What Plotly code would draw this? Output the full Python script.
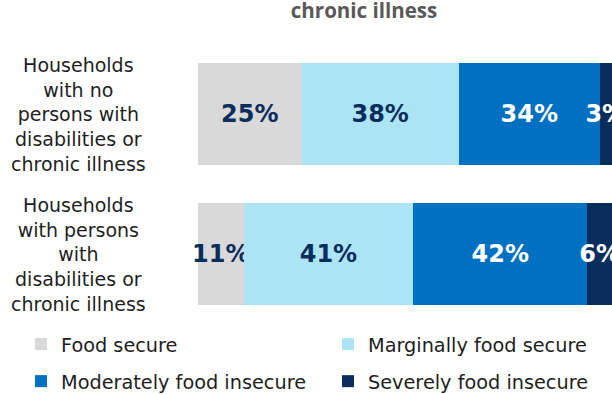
import plotly.graph_objects as go

categories = ["Households<br>with no<br>persons with<br>disabilities or<br>chronic illness",
              "Households<br>with persons<br>with<br>disabilities or<br>chronic illness"]
series_names = ["Food secure", "Marginally food secure", "Moderately food insecure", "Severely food insecure"]
food_secure = [25, 11]
marginally = [38, 41]
moderately = [34, 42]
severely = [3, 6]
series_values = [food_secure, marginally, moderately, severely]
colors = ["#D9D9D9", "#ADE4F5", "#0070C0", "#0B2D5C"]
text_colors = ["#0B2D5C", "#0B2D5C", "#FFFFFF", "#FFFFFF"]
legend_ids = ["legend", "legend2", "legend", "legend2"]

W, H = 612, 394
fig = go.Figure()
for name, vals, col, tcol, lg in zip(series_names, series_values, colors, text_colors, legend_ids):
    fig.add_trace(go.Bar(
        y=categories, x=vals, name=name, orientation="h",
        marker=dict(color=col, line=dict(width=0)),
        text=[f"{v}%" for v in vals], textposition="inside",
        insidetextanchor="middle", textangle=0, constraintext="none",
        textfont=dict(family="DejaVu Sans", size=24, color=tcol, weight="bold"),
        cliponaxis=False, legend=lg, legendgroup=name, hoverinfo="skip",
    ))

label_font = dict(family="DejaVu Sans", size=19, color="#1E1E1E")
legend_font = dict(family="DejaVu Sans", size=19.3, color="#1E1E1E")
for cat in categories:
    fig.add_annotation(x=(78 - 198) / 414, xref="paper", y=cat, yref="y",
                       text=cat, showarrow=False, align="center",
                       xanchor="center", yanchor="middle", font=label_font)

fig.update_layout(
    width=W, height=H,
    margin=dict(l=198, r=0, t=44, b=70, autoexpand=False),
    barmode="stack", bargap=0.27,
    plot_bgcolor="white", paper_bgcolor="white",
    showlegend=True,
    title=dict(text="<b>chronic illness</b>", x=364 / W, xref="container", xanchor="center",
               y=1 - 11 / H, yref="container", yanchor="middle",
               font=dict(family="Open Sans", size=20.5, color="#595959")),
    xaxis=dict(range=[0, 100], visible=False, fixedrange=True),
    yaxis=dict(autorange="reversed", visible=False, type="category"),
    legend=dict(xref="container", yref="container", x=21 / W, y=1 - 325 / H,
                xanchor="left", yanchor="top", orientation="v", font=legend_font,
                tracegroupgap=9, bgcolor="rgba(0,0,0,0)", traceorder="grouped"),
    legend2=dict(xref="container", yref="container", x=328 / W, y=1 - 325 / H,
                 xanchor="left", yanchor="top", orientation="v", font=legend_font,
                 tracegroupgap=9, bgcolor="rgba(0,0,0,0)", traceorder="grouped"),
)
fig.write_html("out.html", config={"displayModeBar": False},
               post_script="document.body.style.margin='0';document.body.style.overflow='hidden';")
